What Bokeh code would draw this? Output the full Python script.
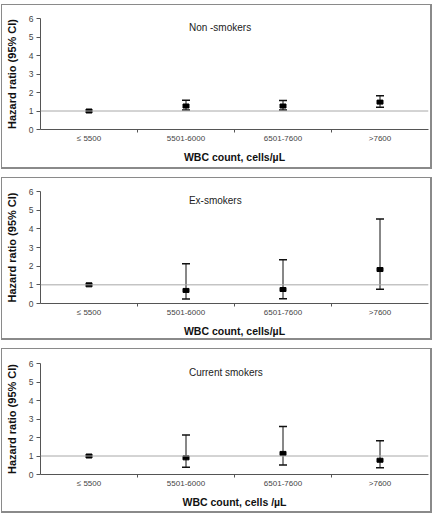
import numpy as np
from bokeh.plotting import figure
from bokeh.layouts import column
from bokeh.models import (ColumnDataSource, Whisker, TeeHead, Span, Label,
                          FixedTicker, Range1d)
from bokeh.embed import file_html
from bokeh.resources import INLINE

categories = ["\u2264 5500", "5501-6000", "6501-7600", ">7600"]
y_ticks = [0, 1, 2, 3, 4, 5, 6]

titles = ["Non -smokers", "Ex-smokers", "Current smokers"]
x_titles = ["WBC count, cells/\u00b5L", "WBC count, cells/\u00b5L", "WBC count, cells /\u00b5L"]

non_hr = [1.0, 1.27, 1.27, 1.48]
non_lo = [None, 1.06, 1.05, 1.20]
non_hi = [None, 1.58, 1.57, 1.82]

ex_hr = [1.0, 0.70, 0.75, 1.82]
ex_lo = [None, 0.24, 0.26, 0.77]
ex_hi = [None, 2.13, 2.35, 4.53]

cur_hr = [1.0, 0.90, 1.14, 0.77]
cur_lo = [None, 0.39, 0.52, 0.37]
cur_hi = [None, 2.14, 2.60, 1.82]

FONT = "Liberation Sans"
BORDER = "#8a8a8a"


def panel(title, xtitle, hr, lo, hi, top, bottom, fh):
    n = len(categories)
    xs = np.arange(n) + 0.5
    p = figure(frame_width=385, frame_height=fh, output_backend="svg",
               toolbar_location=None, x_range=Range1d(0, n),
               y_range=Range1d(y_ticks[0], y_ticks[-1]),
               min_border_left=37, min_border_right=5,
               min_border_top=top, min_border_bottom=bottom)
    p.styles = {"border-left": f"1px solid {BORDER}", "border-top": f"1px solid {BORDER}",
                "border-right": f"2px solid {BORDER}", "border-bottom": f"2px solid {BORDER}"}
    p.outline_line_color = None
    p.grid.visible = False
    p.background_fill_color = "white"

    p.xaxis.ticker = FixedTicker(ticks=list(xs), minor_ticks=list(np.arange(1, n)))
    p.xaxis.major_label_overrides = {float(x): c for x, c in zip(xs, categories)}
    p.xaxis.major_tick_out = 0
    p.xaxis.major_tick_in = 0
    p.xaxis.minor_tick_out = 3
    p.xaxis.minor_tick_in = 0
    p.xaxis.major_label_standoff = 1
    p.xaxis.axis_label = xtitle
    p.xaxis.axis_label_standoff = 5

    p.yaxis.ticker = FixedTicker(ticks=y_ticks, minor_ticks=[])
    p.yaxis.major_tick_out = 4
    p.yaxis.major_tick_in = 0
    p.yaxis.major_label_standoff = 3
    p.yaxis.axis_label = "Hazard ratio (95% CI)"
    p.yaxis.axis_label_standoff = 8

    for ax in (p.xaxis[0], p.yaxis[0]):
        ax.axis_line_color = "#555555"
        ax.major_tick_line_color = "#555555"
        ax.minor_tick_line_color = "#555555"
        ax.major_label_text_font = FONT
        ax.major_label_text_font_size = "8px"
        ax.major_label_text_color = "#444444"
        ax.axis_label_text_font = FONT
        ax.axis_label_text_font_style = "bold"
        ax.axis_label_text_color = "#111111"
    p.yaxis.major_label_text_font_size = "8.5px"
    p.xaxis.axis_label_text_font_size = "10.5px"
    p.yaxis.axis_label_text_font_size = "11px"

    p.add_layout(Span(location=1, dimension="width", line_color="#a8a8a8", line_width=1))

    ci = ColumnDataSource(dict(x=[x for x, l in zip(xs, lo) if l is not None],
                               lo=[l for l in lo if l is not None],
                               hi=[h for h in hi if h is not None]))
    w = Whisker(base="x", lower="lo", upper="hi", source=ci,
                line_color="#111111", line_width=1,
                lower_head=TeeHead(size=8, line_color="#111111", line_width=1.5),
                upper_head=TeeHead(size=8, line_color="#111111", line_width=1.5))
    p.add_layout(w)

    pts = ColumnDataSource(dict(x=xs, y=hr))
    p.rect(x="x", y="y", width=6, height=4, width_units="screen", height_units="screen",
           source=pts, fill_color="black", line_color="black")

    p.add_layout(Label(x=1.53, y=5.5, text=title, text_font=FONT, text_font_size="10px",
                       text_color="#222222", text_baseline="middle", text_align="left"))
    return p


p1 = panel(titles[0], x_titles[0], non_hr, non_lo, non_hi, 13, 41, 108)
p2 = panel(titles[1], x_titles[1], ex_hr, ex_lo, ex_hi, 13, 38, 109)
p3 = panel(titles[2], x_titles[2], cur_hr, cur_lo, cur_hi, 14, 40, 108)

layout = column(p1, p2, p3, spacing=8)
layout.styles = {"margin-top": "4px", "margin-left": "1px"}

open("out.html", "w").write(file_html(layout, INLINE))
